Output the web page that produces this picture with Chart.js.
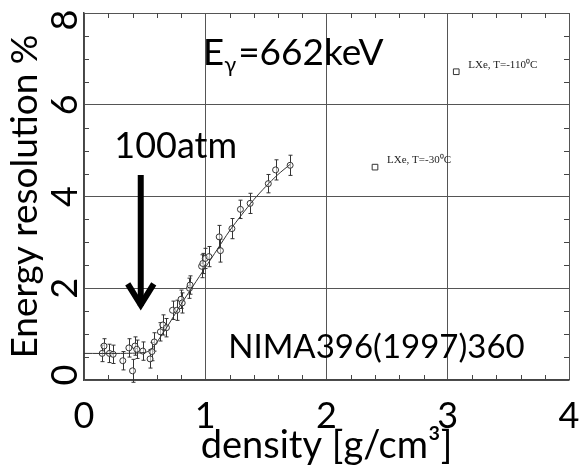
<!DOCTYPE html>
<html>
<head>
<meta charset="utf-8">
<script src="https://cdn.jsdelivr.net/npm/chart.js"></script>
<style>
  html, body { margin: 0; padding: 0; background: #fff; }
  #wrap { width: 579px; height: 469px; }
</style>
</head>
<body>
<div id="wrap"><canvas id="grafico" width="579" height="469"></canvas></div>
<script>
const xTickLabels = ['0', '1', '2', '3', '4'];
const yTickLabels = ['0', '2', '4', '6', '8'];

const density = [0.15, 0.165, 0.21, 0.24, 0.32, 0.37, 0.40, 0.42, 0.435, 0.485, 0.545, 0.56, 0.58,
    0.63, 0.65, 0.68, 0.73, 0.765, 0.80, 0.81, 0.87, 0.875, 0.97, 0.98, 1.00, 1.03, 1.115, 1.125,
    1.22, 1.29, 1.37, 1.52, 1.58, 1.70];
const resolution = [0.58, 0.74, 0.58, 0.56, 0.42, 0.70, 0.20, 0.74, 0.67, 0.63, 0.46, 0.62, 0.83,
    1.05, 1.20, 1.14, 1.52, 1.52, 1.76, 1.68, 2.00, 2.07, 2.48, 2.54, 2.65, 2.69, 3.12, 2.82,
    3.30, 3.72, 3.85, 4.28, 4.58, 4.68];
const resolutionErr = [0.18, 0.16, 0.20, 0.20, 0.20, 0.20, 0.25, 0.20, 0.20, 0.20, 0.20, 0.20, 0.20,
    0.20, 0.22, 0.20, 0.20, 0.22, 0.20, 0.22, 0.22, 0.20, 0.25, 0.22, 0.22, 0.22, 0.25, 0.25,
    0.22, 0.20, 0.22, 0.20, 0.22, 0.22];

// fitted curve
const fitDensity = [0, 0.3, 0.5, 0.55, 0.6, 0.7, 0.8, 0.9, 1.0, 1.1, 1.2, 1.3, 1.4, 1.5, 1.6, 1.7];
const fitResolution = [0.58, 0.58, 0.60, 0.66, 0.82, 1.22, 1.65, 2.05, 2.45, 2.85, 3.25, 3.60, 3.93, 4.22, 4.48, 4.70];

// liquid xenon reference points
const lxeDensity = [2.40, 3.07];
const lxeResolution = [4.64, 6.72];
const lxeLabels = ['LXe, T=-30⁰C', 'LXe, T=-110⁰C'];

const FONT = 'Lato, "Open Sans", sans-serif';
const LINE = '#444';

const minorTicks = {
    id: 'minorTicks',
    beforeDatasetsDraw(chart) {
        const { ctx, chartArea: a, scales: { x, y } } = chart;
        ctx.save();
        ctx.strokeStyle = LINE;
        ctx.lineWidth = 1;
        ctx.beginPath();
        for (let i = 1; i < 20; i++) {
            if (i % 5 === 0) continue;
            const px = Math.round(x.getPixelForValue(i * 0.2)) + 0.5;
            ctx.moveTo(px, a.bottom); ctx.lineTo(px, a.bottom - 5);
            ctx.moveTo(px, a.top); ctx.lineTo(px, a.top + 5);
        }
        for (let i = 1; i < 16; i++) {
            if (i % 4 === 0) continue;
            const py = Math.round(y.getPixelForValue(i * 0.5)) + 0.5;
            ctx.moveTo(a.left, py); ctx.lineTo(a.left + 5, py);
            ctx.moveTo(a.right, py); ctx.lineTo(a.right - 5, py);
        }
        ctx.stroke();
        ctx.restore();
    }
};

const errorBars = {
    id: 'errorBars',
    beforeDatasetsDraw(chart) {
        const { ctx, scales: { x, y } } = chart;
        ctx.save();
        ctx.strokeStyle = '#333';
        ctx.lineWidth = 1;
        ctx.beginPath();
        density.forEach((d, i) => {
            const px = Math.round(x.getPixelForValue(d)) + 0.5;
            const top = y.getPixelForValue(resolution[i] + resolutionErr[i]);
            const bot = y.getPixelForValue(resolution[i] - resolutionErr[i]);
            ctx.moveTo(px, top); ctx.lineTo(px, bot);
            ctx.moveTo(px - 2, top); ctx.lineTo(px + 2, top);
            ctx.moveTo(px - 2, bot); ctx.lineTo(px + 2, bot);
        });
        ctx.stroke();
        ctx.restore();
    }
};

const textos = {
    id: 'textos',
    afterDraw(chart) {
        const { ctx, chartArea: a, scales: { x, y } } = chart;
        const px = v => x.getPixelForValue(v);
        const py = v => y.getPixelForValue(v);
        ctx.save();
        ctx.fillStyle = '#000';

        // rotated y tick labels
        ctx.font = '36px ' + FONT;
        ctx.textAlign = 'center';
        ctx.textBaseline = 'middle';
        yTickLabels.forEach(t => {
            ctx.save();
            ctx.translate(65, Math.min(Math.max(py(Number(t)), a.top + 7), a.bottom - 5));
            ctx.rotate(-Math.PI / 2);
            ctx.fillText(t, 0, 0);
            ctx.restore();
        });

        // E_gamma label
        ctx.textAlign = 'left';
        ctx.textBaseline = 'alphabetic';
        let tx = px(0.98), ty = py(6.86);
        ctx.font = '37px ' + FONT;
        ctx.fillText('E', tx, ty);
        tx += ctx.measureText('E').width;
        ctx.font = '22px ' + FONT;
        ctx.fillText('γ', tx, ty + 7);
        tx += ctx.measureText('γ').width + 2;
        ctx.font = '37px ' + FONT;
        ctx.fillText('=662keV', tx, ty);

        ctx.font = '36px ' + FONT;
        ctx.fillText('100atm', px(0.25), py(4.84));

        ctx.font = '33px ' + FONT;
        ctx.fillText('NIMA396(1997)360', px(1.19), py(0.48));

        // arrow
        const ax = px(0.468), ay1 = py(4.47), ay2 = py(1.53);
        ctx.strokeStyle = '#000';
        ctx.lineWidth = 6;
        ctx.beginPath();
        ctx.moveTo(ax, ay1); ctx.lineTo(ax, ay2 - 4);
        ctx.stroke();
        ctx.lineJoin = 'miter';
        ctx.beginPath();
        ctx.moveTo(ax - 13, ay2 - 26); ctx.lineTo(ax, ay2 - 5); ctx.lineTo(ax + 13, ay2 - 26);
        ctx.stroke();

        // LXe labels
        ctx.font = '11px "Liberation Serif", serif';
        ctx.fillStyle = '#222';
        ctx.textBaseline = 'middle';
        lxeLabels.forEach((lab, i) => {
            ctx.fillText(lab, px(lxeDensity[i]) + 12, py(lxeResolution[i]) - 7);
        });
        ctx.restore();
    }
};

new Chart(document.getElementById('grafico'), {
    type: 'scatter',
    data: {
        datasets: [
            {
                type: 'line',
                data: fitDensity.map((d, i) => ({ x: d, y: fitResolution[i] })),
                borderColor: '#333',
                borderWidth: 1,
                pointRadius: 0,
                tension: 0.3,
                fill: false
            },
            {
                data: density.map((d, i) => ({ x: d, y: resolution[i] })),
                pointStyle: 'circle',
                pointRadius: 3,
                borderColor: '#333',
                borderWidth: 1,
                backgroundColor: 'rgba(255,255,255,0.6)'
            },
            {
                data: lxeDensity.map((d, i) => ({ x: d, y: lxeResolution[i] })),
                pointStyle: 'rect',
                pointRadius: 4,
                borderColor: '#333',
                borderWidth: 1,
                backgroundColor: '#fff'
            }
        ]
    },
    options: {
        responsive: false,
        animation: false,
        devicePixelRatio: 1,
        layout: { padding: { top: 13, right: 10, left: 0, bottom: 0 } },
        plugins: { legend: { display: false }, tooltip: { enabled: false } },
        scales: {
            x: {
                type: 'linear',
                min: 0,
                max: 4,
                afterFit(scale) {
                    scale.height = 89;
                    scale.paddingLeft = 0;
                    scale.paddingRight = 0;
                },
                ticks: {
                    stepSize: 1,
                    padding: 15,
                    color: '#000',
                    font: { family: FONT, size: 36 },
                    callback: (v, i) => xTickLabels[i]
                },
                grid: { color: '#555', lineWidth: 1, drawTicks: false },
                border: { display: true, color: LINE, width: 1.5 },
                title: {
                    display: true,
                    text: 'density [g/cm³]',
                    color: '#000',
                    font: { family: FONT, size: 38 },
                    padding: { top: 0, bottom: 0 }
                }
            },
            y: {
                type: 'linear',
                min: 0,
                max: 8,
                afterFit(scale) {
                    scale.width = 84;
                },
                ticks: { stepSize: 2, display: false },
                grid: { color: '#555', lineWidth: 1, drawTicks: false },
                border: { display: true, color: LINE, width: 1.5 },
                title: {
                    display: true,
                    text: 'Energy resolution %',
                    color: '#000',
                    font: { family: FONT, size: 37 },
                    padding: { top: 3, bottom: 0 }
                }
            }
        }
    },
    plugins: [minorTicks, errorBars, textos]
});
</script>
</body>
</html>
